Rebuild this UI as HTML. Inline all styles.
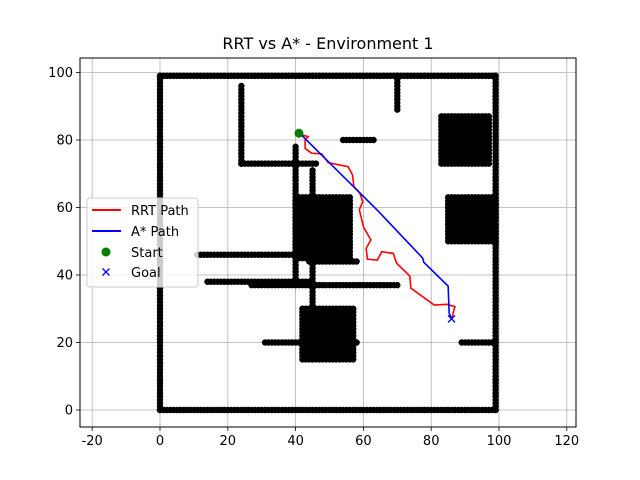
<!DOCTYPE html>
<html><head><meta charset="utf-8"><style>
body{margin:0;background:#fff;}
svg{display:block;font-family:"DejaVu Sans","Liberation Sans",sans-serif;}
</style></head><body>
<svg id="chart" width="640" height="480" viewBox="0 0 640 480">
<rect width="640" height="480" fill="#fff"/>
<text x="328" y="49" text-anchor="middle" font-size="16">RRT vs A* - Environment 1</text>
<g id="grid"></g>
<g id="obstacles"></g>
<g id="paths"></g>
<rect x="80" y="58" width="496" height="369" fill="none" stroke="#000" stroke-width="1"/>
<g id="ticks"></g>
<g>
<rect x="87" y="198" width="111" height="89" rx="3" fill="#fff" fill-opacity="0.8" stroke="#ccc"/>
<line x1="92" y1="210" x2="121" y2="210" stroke="red" stroke-width="2"/>
<text x="131" y="215" font-size="13">RRT Path</text>
<line x1="92" y1="231" x2="121" y2="231" stroke="blue" stroke-width="2"/>
<text x="131" y="236" font-size="13">A* Path</text>
<circle cx="106" cy="252" r="4.5" fill="green"/>
<text x="131" y="257" font-size="13">Start</text>
<path d="M102.5 268.5 L109.5 275.5 M109.5 268.5 L102.5 275.5" stroke="blue" stroke-width="1.3"/>
<text x="131" y="277" font-size="13">Goal</text>
</g>
</svg>
<script>
const xTicks=[-20,0,20,40,60,80,100,120];
const yTicks=[0,20,40,60,80,100];
// obstacle segments [x1,y1,x2,y2]
const obsLines=[[0,0,0,99],[0,99,99,99],[99,0,99,99],[0,0,99,0],[24,73,24,96],[24,73,46,73],[70,89,70,99],[54,80,63,80],[40,38,40,78],[45,15,45,71],[11,46,40,46],[44,44,58,44],[14,38,44,38],[27,37,70,37],[31,20,58,20],[89,20,99,20]];
// obstacle blocks [x1,y1,x2,y2]
const obsBlocks=[[40,45,56,63],[42,15,57,30],[83,73,97,87],[85,50,99,63]];
const rrtX=[41.8,43.7,42.8,42.8,44.7,47.7,49.6,55.5,56.8,57.2,59.0,59.8,58.8,60.0,62.2,60.8,61.2,64.1,65.4,68.8,69.8,73.7,74.0,80.9,84.6,87.0,86.0];
const rrtY=[81.5,81.0,80.0,77.5,76.1,75.9,73.3,72.1,69.6,66.2,64.2,61.7,59.3,54.3,50.4,47.9,44.7,44.4,46.9,46.4,43.5,39.7,36.1,31.1,31.3,30.6,27.0];
const astarX=[42,63.4,64.3,77.5,77.8,85,85.3,86];
const astarY=[81.2,59.9,59,45,43.8,36.7,28.7,27];
const start=[41,82], goal=[86,27];
const X=v=>160+3.39*v, Y=v=>410-3.375*v;
const NS='http://www.w3.org/2000/svg';
function mk(t,a,p){const e=document.createElementNS(NS,t);for(const k in a)e.setAttribute(k,a[k]);p.appendChild(e);return e;}
const grid=document.getElementById('grid'),ticks=document.getElementById('ticks');
xTicks.forEach(t=>{
 const l=mk('line',{x1:X(t),x2:X(t),y1:58,y2:427,stroke:'#b0b0b0','stroke-width':0.8},grid);
 
 
 mk('line',{x1:X(t),x2:X(t),y1:427,y2:431,stroke:'#000','stroke-width':0.8},ticks);
 const tx=mk('text',{x:X(t),y:445,'text-anchor':'middle','font-size':13},ticks);tx.textContent=t;
 
 
});
yTicks.forEach(t=>{
 const l=mk('line',{x1:80,x2:576,y1:Y(t),y2:Y(t),stroke:'#b0b0b0','stroke-width':0.8},grid);
 
 
 mk('line',{x1:76,x2:80,y1:Y(t),y2:Y(t),stroke:'#000','stroke-width':0.8},ticks);
 const tx=mk('text',{x:73,y:Y(t)+4.5,'text-anchor':'end','font-size':13},ticks);tx.textContent=t;
 
 
});
const obs=document.getElementById('obstacles');
function dot(x,y){mk('circle',{cx:X(x),cy:Y(y),r:3.2,fill:'#000'},obs);}
obsLines.forEach(([x1,y1,x2,y2])=>{
 const n=Math.max(Math.abs(x2-x1),Math.abs(y2-y1));
 for(let i=0;i<=n;i++)dot(x1+(x2-x1)*i/n,y1+(y2-y1)*i/n);
});
obsBlocks.forEach(([x1,y1,x2,y2])=>{
 for(let x=x1;x<=x2;x++)for(let y=y1;y<=y2;y++)dot(x,y);
});
const paths=document.getElementById('paths');
const r=mk('polyline',{points:rrtX.map((v,i)=>X(v)+','+Y(rrtY[i])).join(' '),fill:'none',stroke:'red','stroke-width':1.6},paths);


const a=mk('polyline',{points:astarX.map((v,i)=>X(v)+','+Y(astarY[i])).join(' '),fill:'none',stroke:'blue','stroke-width':1.6},paths);


const s=mk('circle',{cx:X(start[0]),cy:Y(start[1]),r:4.5,fill:'green'},paths);


const gx=X(goal[0]),gy=Y(goal[1]);
const g=mk('path',{d:`M${gx-3.5} ${gy-3.5}L${gx+3.5} ${gy+3.5}M${gx+3.5} ${gy-3.5}L${gx-3.5} ${gy+3.5}`,stroke:'blue','stroke-width':1.3},paths);


</script>
</body></html>
